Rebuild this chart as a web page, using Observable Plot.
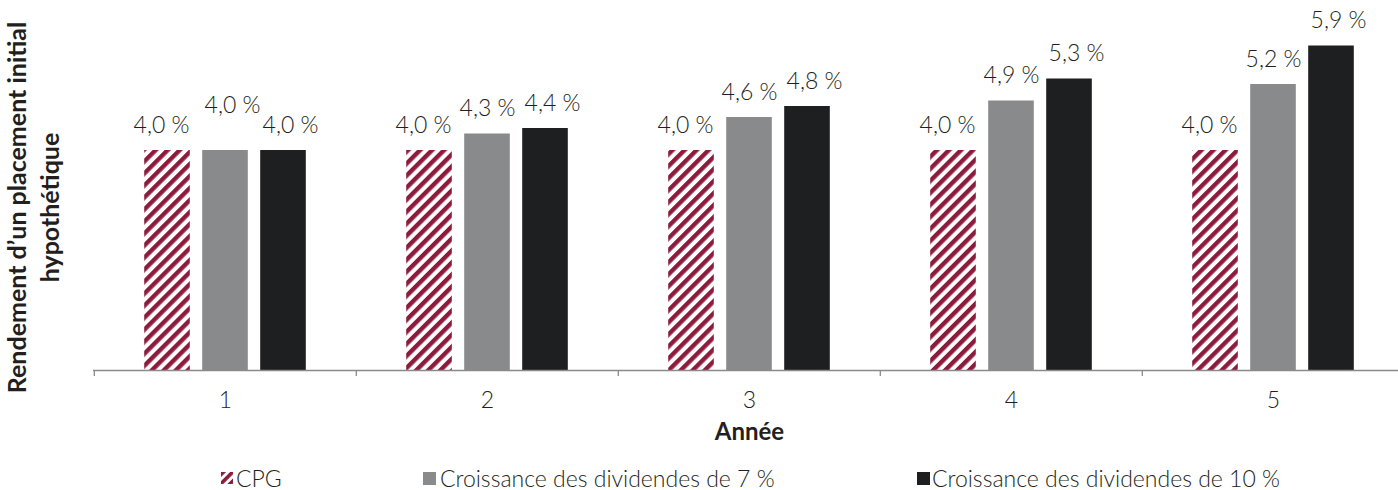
<!DOCTYPE html>
<html>
<head>
<meta charset="utf-8">
<script src="https://cdn.jsdelivr.net/npm/d3@7"></script>
<script src="https://cdn.jsdelivr.net/npm/@observablehq/plot@0.6"></script>
<style>
  html, body { margin: 0; padding: 0; background: #fff; overflow: hidden; }
  #wrap { position: relative; width: 1398px; height: 490px; font-family: Lato, "Open Sans", sans-serif; color: #231f20; }
  .leg { position: absolute; top: 465px; height: 26px; font-size: 23px; font-weight: 300; line-height: 26px; white-space: nowrap; }
  .sw { position: absolute; top: 7px; width: 12px; height: 12px; }
</style>
</head>
<body>
<div id="wrap">
  <div id="chart"></div>
</div>
<script>
// ---- data ----
const years = ["1", "2", "3", "4", "5"];
const cpg = [4.0, 4.0, 4.0, 4.0, 4.0];
const div7 = [4.0, 4.3, 4.6, 4.9, 5.2];
const div10 = [4.0, 4.4, 4.8, 5.3, 5.9];
const seriesNames = ["CPG", "Croissance des dividendes de 7 %", "Croissance des dividendes de 10 %"];
const xTitle = "Année";
const yTitleLines = ["Rendement d’un placement initial", "hypothétique"];

// ---- styles ----
const colMaroon = "#8c1b3c";
const colGray = "#898a8c";
const colBlack = "#1e1f21";
const textCol = "#231f20";
const FS = 23;

const rows = years.map((y, i) => ({year: y, cpg: cpg[i], div7: div7[i], div10: div10[i]}));
const fmt = v => v.toFixed(1).replace(".", ",") + " %";

const W = 1398, mL = 93, mR = -7;
const bw = (W - mL - mR) / years.length;
const barW = 46, step = 58;
const inset = (bw - barW) / 2;

const defs = () => {
  const d = d3.create("svg:defs");
  const p = d.append("pattern")
    .attr("id", "cpgHatch")
    .attr("patternUnits", "userSpaceOnUse")
    .attr("width", 8.5).attr("height", 10)
    .attr("patternTransform", "rotate(45)");
  p.append("rect").attr("width", 8.5).attr("height", 10).attr("fill", "#fff");
  p.append("rect").attr("width", 4.4).attr("height", 10).attr("fill", colMaroon);
  return d.node();
};

// rotated two-line y-axis title
const yTitleMark = (index, scales, values, dims) => {
  const cy = (dims.marginTop + dims.height - dims.marginBottom) / 2 + 19;
  const t = d3.create("svg:text")
    .attr("transform", `translate(34,${cy}) rotate(-90)`)
    .attr("text-anchor", "middle")
    .attr("font-size", 25)
    .attr("font-weight", "bold")
    .attr("fill", textCol);
  yTitleLines.forEach((line, i) => {
    t.append("tspan").attr("x", 0).attr("y", (i - (yTitleLines.length - 1) / 2) * 33).attr("dy", "0.35em").text(line);
  });
  return t.node();
};

const chart = Plot.plot({
  width: W,
  height: 455,
  marginLeft: mL,
  marginRight: mR,
  marginTop: 7,
  marginBottom: 85,
  style: {fontFamily: "Lato, 'Open Sans', sans-serif", color: textCol, background: "#fff"},
  x: {domain: years, padding: 0, axis: null},
  y: {domain: [0, 6.6], axis: null},
  marks: [
    defs,
    Plot.barY(rows, {x: "year", y: "cpg", insetLeft: inset, insetRight: inset, dx: -step, fill: "url(#cpgHatch)"}),
    Plot.barY(rows, {x: "year", y: "div7", insetLeft: inset, insetRight: inset, fill: colGray}),
    Plot.barY(rows, {x: "year", y: "div10", insetLeft: inset, insetRight: inset, dx: step, fill: colBlack}),
    Plot.ruleY([0], {stroke: "#8a8a8a", strokeWidth: 1.3}),
    Plot.ruleX(years, {x: d => d, dx: -bw / 2, y1: 0, y2: -0.11, stroke: "#8a8a8a", strokeWidth: 1.3}),
    // value labels
    Plot.text(rows, {x: "year", y: "cpg", text: d => fmt(d.cpg), dy: -25, dx: -step - 6, fontSize: FS, fontWeight: 300, fill: textCol}),
    Plot.text(rows.filter((d, i) => i > 0), {x: "year", y: "div7", text: d => fmt(d.div7), dy: -25, dx: 0, fontSize: FS, fontWeight: 300, fill: textCol}),
    Plot.text(rows.filter((d, i) => i === 0), {x: "year", y: "div7", text: d => fmt(d.div7), dy: -45, dx: 7, fontSize: FS, fontWeight: 300, fill: textCol}),
    Plot.text(rows, {x: "year", y: "div10", text: d => fmt(d.div10), dy: -25, dx: step + 7, fontSize: FS, fontWeight: 300, fill: textCol}),
    // x tick labels
    Plot.text(years, {x: d => d, y: 0, text: d => d, dy: 30, fontSize: FS, fontWeight: 300, fill: textCol}),
    // axis titles
    Plot.text([xTitle], {frameAnchor: "bottom", text: d => d, dy: 69, fontSize: 24, fontWeight: "bold", fill: textCol}),
    yTitleMark
  ]
});
document.getElementById("chart").appendChild(chart);

// ---- legend ----
const wrap = document.getElementById("wrap");
const legendItems = [
  {name: seriesNames[0], sw: 221, tx: 236, kind: "hatch"},
  {name: seriesNames[1], sw: 423, tx: 440, fill: colGray},
  {name: seriesNames[2], sw: 917, tx: 932, fill: colBlack}
];
legendItems.forEach(it => {
  const s = document.createElement("div");
  s.className = "leg";
  s.style.left = "0px";
  if (it.kind === "hatch") {
    s.innerHTML = `<svg class="sw" style="left:${it.sw}px" width="12" height="12" viewBox="0 0 12 12">
      <defs><pattern id="legHatch" patternUnits="userSpaceOnUse" width="6.5" height="10" patternTransform="rotate(45)">
      <rect width="6.5" height="10" fill="#fff"/><rect width="3.6" height="10" fill="${colMaroon}"/></pattern></defs>
      <rect width="12" height="12" fill="url(#legHatch)"/></svg>`;
  } else {
    s.innerHTML = `<div class="sw" style="left:${it.sw}px;background:${it.fill};width:13px;height:13px"></div>`;
  }
  const t = document.createElement("span");
  t.style.position = "absolute";
  t.style.left = it.tx + "px";
  t.textContent = it.name;
  s.appendChild(t);
  wrap.appendChild(s);
});
</script>
</body>
</html>
